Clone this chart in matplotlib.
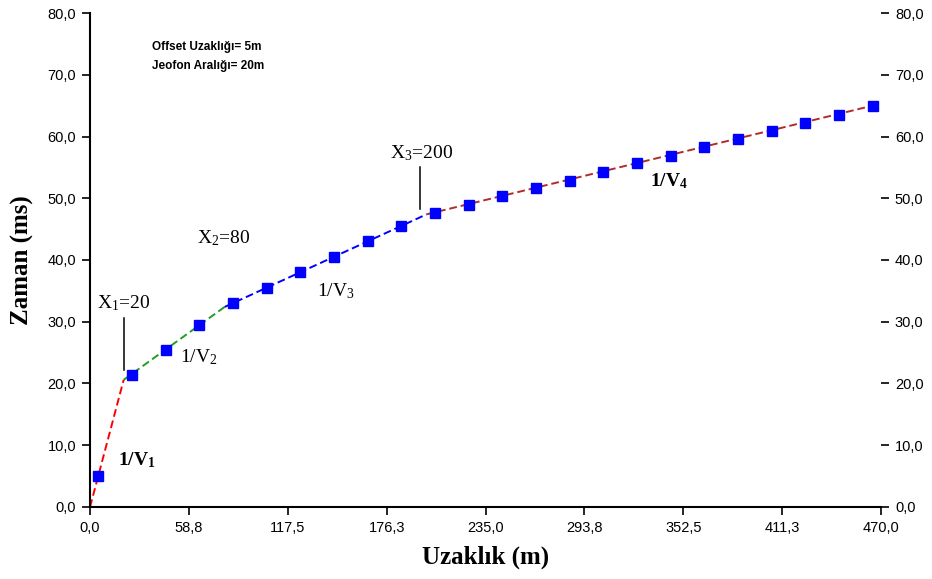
import matplotlib
matplotlib.use("Agg")
import matplotlib.pyplot as plt
import numpy as np

# uzaklik (m) ve zaman (ms) okumalari
uzaklik = [5, 25, 45, 65, 85, 105, 125, 145, 165, 185, 205, 225,
           245, 265, 285, 305, 325, 345, 365, 385, 405, 425, 445, 465]
zaman = [5.0, 21.3, 25.5, 29.5, 33.0, 35.4, 38.0, 40.5, 43.0, 45.5, 47.6, 48.9,
         50.4, 51.6, 52.8, 54.3, 55.7, 56.9, 58.3, 59.6, 60.9, 62.2, 63.5, 65.0]

# dogru parcalari (1/V1 .. 1/V4)
seg_x = [[0, 20], [20, 80], [80, 200], [200, 465]]
seg_y = [[0, 20.6], [20.6, 32.4], [32.4, 47.4], [47.4, 65.0]]
seg_colors = ["#ff0000", "#1f9e1f", "#0000ff", "#b22a2a"]

xtick_vals = [0, 58.75, 117.5, 176.25, 235, 293.75, 352.5, 411.25, 470]
xtick_labels = ["0,0", "58,8", "117,5", "176,3", "235,0", "293,8", "352,5", "411,3", "470,0"]
ytick_vals = [0, 10, 20, 30, 40, 50, 60, 70, 80]
ytick_labels = ["0,0", "10,0", "20,0", "30,0", "40,0", "50,0", "60,0", "70,0", "80,0"]

plt.rcParams["mathtext.fontset"] = "custom"
plt.rcParams["mathtext.rm"] = "Liberation Serif"
plt.rcParams["mathtext.bf"] = "Liberation Serif:bold"
plt.rcParams["mathtext.it"] = "Liberation Serif:italic"

fig = plt.figure(figsize=(9.32, 5.79), dpi=100)
ax = fig.add_axes([0.0966, 0.1244, 0.8487, 0.8531])

for sx, sy, c in zip(seg_x, seg_y, seg_colors):
    ax.plot(sx, sy, color=c, lw=1.4, linestyle=(0, (4, 2)), zorder=2)
ax.plot(uzaklik, zaman, linestyle="none", marker="s", markersize=6.5,
        color="#0000ff", zorder=3)

# kirilma noktalari
ax.plot([20.4, 20.4], [22.2, 30.6], color="black", lw=1.1)
ax.plot([196, 196], [48.3, 55.1], color="black", lw=1.1)

serif = "Liberation Serif"
ax.text(4.0, 33.0, r"X$_{\mathrm{1}}$=20", family=serif, fontsize=14, va="center")
ax.text(63.4, 43.6, r"X$_{\mathrm{2}}$=80", family=serif, fontsize=14, va="center")
ax.text(178, 57.3, r"X$_{\mathrm{3}}$=200", family=serif, fontsize=14, va="center")
ax.text(16.6, 7.6, r"1/V$_{\mathbf{1}}$", family=serif, fontsize=14, fontweight="bold", va="center")
ax.text(53.5, 24.3, r"1/V$_{\mathrm{2}}$", family=serif, fontsize=14, va="center")
ax.text(134.7, 34.9, r"1/V$_{\mathrm{3}}$", family=serif, fontsize=14, va="center")
ax.text(332.7, 52.7, r"1/V$_{\mathbf{4}}$", family=serif, fontsize=14, fontweight="bold", va="center")

ax.text(36.8, 74.5, "Offset Uzaklığı= 5m", family="Liberation Sans", fontsize=8.5,
        fontweight="bold", va="center")
ax.text(36.8, 71.4, "Jeofon Aralığı= 20m", family="Liberation Sans", fontsize=8.5,
        fontweight="bold", va="center")

ax.set_xlim(0, 470)
ax.set_ylim(0, 80)
ax.set_xticks(xtick_vals)
ax.set_xticklabels(xtick_labels)
ax.set_yticks(ytick_vals)
ax.set_yticklabels(ytick_labels)
ax.tick_params(axis="both", direction="out", length=6, width=1.2, labelsize=10.5,
               colors="black", pad=4)
ax.tick_params(axis="y", right=True, labelright=True)
for lab in ax.get_xticklabels() + ax.get_yticklabels():
    lab.set_family("Liberation Sans")

ax.spines["top"].set_visible(False)
ax.spines["right"].set_visible(False)
ax.spines["left"].set_linewidth(1.5)
ax.spines["bottom"].set_linewidth(1.5)

ax.set_xlabel("Uzaklık (m)", family=serif, fontsize=18, fontweight="bold", labelpad=8)
ax.set_ylabel("Zaman (ms)", family=serif, fontsize=18, fontweight="bold", labelpad=10)

fig.savefig("out.png", dpi=100)
